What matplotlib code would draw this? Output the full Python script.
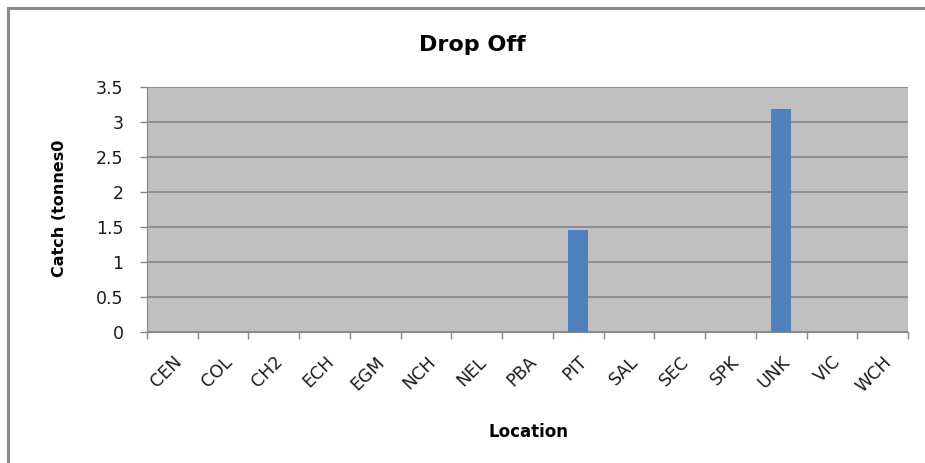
import matplotlib
matplotlib.use("Agg")
import matplotlib.pyplot as plt
import numpy as np

locations = ["CEN", "COL", "CH2", "ECH", "EGM", "NCH", "NEL", "PBA",
             "PIT", "SAL", "SEC", "SPK", "UNK", "VIC", "WCH"]
catch = [0, 0, 0, 0, 0, 0, 0, 0, 1.46, 0, 0, 0, 3.18, 0, 0]
y_ticks = [0, 0.5, 1, 1.5, 2, 2.5, 3, 3.5]
y_tick_labels = ["0", "0.5", "1", "1.5", "2", "2.5", "3", "3.5"]

plt.rcParams['font.family'] = ['DejaVu Sans']

fig = plt.figure(figsize=(9.25, 4.63), dpi=100)
ax = fig.add_axes([147 / 925, 1 - 332 / 463, 761 / 925, 245 / 463])

# chart frame (left and top edges only)
fig.add_artist(plt.Line2D([7.5 / 925, 7.5 / 925], [0, 1 - 7.5 / 463],
                          color="#8a8a8a", lw=2.2, transform=fig.transFigure))
fig.add_artist(plt.Line2D([7.5 / 925, 1], [1 - 7.5 / 463, 1 - 7.5 / 463],
                          color="#8a8a8a", lw=2.2, transform=fig.transFigure))

x = np.arange(len(locations))
ax.set_facecolor("#C0C0C0")
ax.bar(x, catch, width=0.4, color="#4F81BD", zorder=3)

ax.set_xlim(-0.5, len(locations) - 0.5)
ax.set_ylim(0, 3.5)
ax.set_yticks(y_ticks)
ax.set_yticklabels(y_tick_labels, fontsize=12.5, color="#1a1a1a")
ax.yaxis.grid(True, color="#868686", lw=1.2, zorder=1)

ax.set_xticks(x)
ax.set_xticklabels(locations, rotation=45, ha="right", rotation_mode="anchor",
                   fontsize=12.5, color="#1a1a1a")
ax.tick_params(axis="x", length=0, pad=15)
# category separators below the axis
ax.set_xticks(np.arange(-0.5, len(locations)), minor=True)
ax.tick_params(axis="x", which="minor", length=5, color="#868686", width=1)
ax.tick_params(axis="y", length=5, color="#868686", width=1, pad=12)

for side in ["top", "right"]:
    ax.spines[side].set_visible(False)
ax.spines["left"].set_color("#868686")
ax.spines["bottom"].set_color("#868686")

fig.text(472 / 925, 1 - 45 / 463, "Drop Off", ha="center", va="center",
         fontsize=16, fontweight="bold")
fig.text(60 / 925, 1 - 208 / 463, "Catch (tonnes0", ha="center", va="center",
         rotation=90, fontsize=11.5, fontweight="bold")
fig.text(528 / 925, 1 - 432 / 463, "Location", ha="center", va="center",
         fontsize=12, fontweight="bold")

fig.savefig("out.png", dpi=100)
